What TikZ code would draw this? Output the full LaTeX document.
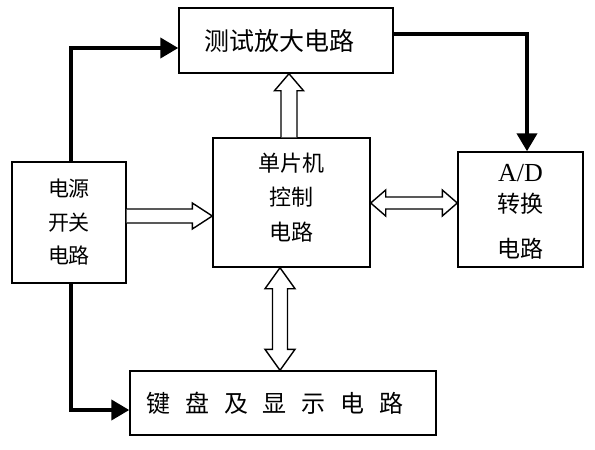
\documentclass[tikz,border=0pt]{standalone}
\usepackage{fontspec}
\setmainfont{Liberation Serif}
\newfontfamily\cjk{Noto Sans CJK SC}
\usetikzlibrary{calc,arrows.meta}
\newcommand{\gp}{\hspace{15pt}}
\begin{document}
\begin{tikzpicture}[x=1pt,y=-1pt,
  box/.style={draw, line width=1.4pt, rectangle, inner sep=0pt, align=center},
  power/.style={line width=4pt, -{Triangle[length=18pt,width=20pt]}},
  hollow/.style={draw, line width=1.4pt, fill=white, line join=miter},
]
\useasboundingbox[fill=white] (0,0) rectangle (595,450);
% boxes
\node[box, minimum width=214pt, minimum height=65pt,
      font=\cjk\fontsize{25}{30}\selectfont] (top) at (286,40.5) {测试放大电路\hspace*{14pt}};
\node[box, minimum width=157pt, minimum height=129pt,
      font=\cjk\fontsize{22}{34.5}\selectfont] (ctl) at (291.5,202.5) {单片机\\控制\\电路\\[-23pt]\mbox{}};
\node[box, minimum width=114pt, minimum height=121pt,
      font=\cjk\fontsize{21}{33.5}\selectfont] (left) at (69,222.5) {电源\\开关\\电路};
\node[box, minimum width=125pt, minimum height=115pt,
      font=\cjk\fontsize{23}{33}\selectfont] (ad) at (520.5,209.5) {\mbox{}\\[-12pt]{\rmfamily\fontsize{26}{30}\selectfont A/D}\\[-2pt]转换\\[12pt]电路};
\node[box, minimum width=306pt, minimum height=64pt,
      font=\cjk\fontsize{24}{30}\selectfont] (bot) at (283,403) {键\gp 盘\gp 及\gp 显\gp 示\gp 电\gp 路\hspace*{16pt}};
% power lines
\draw[power] ([xshift=2pt]left.north) |- ([yshift=-7.5pt]top.west);
\draw[power] ([xshift=2pt]left.south) |- ([yshift=-7pt]bot.west);
\draw[power] ([yshift=6.5pt]top.east) -| ([xshift=6.5pt]ad.north);
% hollow arrow up: ctl -> top
\coordinate (ua1) at ([xshift=-2.5pt]ctl.north);
\coordinate (ua2) at (ua1 |- top.south);
\draw[hollow] ($(ua1)+(-8,0)$) -- ($(ua2)+(-8,17)$) -- ($(ua2)+(-14.5,17)$) -- (ua2)
  -- ($(ua2)+(14.5,17)$) -- ($(ua2)+(8,17)$) -- ($(ua1)+(8,0)$);
% hollow arrow right: left -> ctl
\coordinate (la1) at ([yshift=6.5pt]left.east);
\coordinate (la2) at (la1 -| ctl.west);
\draw[hollow] ($(la1)+(0,-7)$) -- ($(la2)+(-20,-7)$) -- ($(la2)+(-20,-13)$) -- (la2)
  -- ($(la2)+(-20,13)$) -- ($(la2)+(-20,7)$) -- ($(la1)+(0,7)$);
% double hollow arrow: ctl <-> ad
\coordinate (da1) at ([yshift=-0.5pt]ctl.east);
\coordinate (da2) at (da1 -| ad.west);
\draw[hollow] (da1) -- ($(da1)+(15,-13)$) -- ($(da1)+(15,-6)$) -- ($(da2)+(-15,-6)$)
  -- ($(da2)+(-15,-13)$) -- (da2) -- ($(da2)+(-15,13)$) -- ($(da2)+(-15,6)$)
  -- ($(da1)+(15,6)$) -- ($(da1)+(15,13)$) -- cycle;
% double hollow arrow: ctl <-> bot
\coordinate (va1) at ([xshift=-11.5pt]ctl.south);
\coordinate (va2) at (va1 |- bot.north);
\draw[hollow] (va1) -- ($(va1)+(-15,21)$) -- ($(va1)+(-7.5,21)$) -- ($(va2)+(-7.5,-21)$)
  -- ($(va2)+(-15,-21)$) -- (va2) -- ($(va2)+(15,-21)$) -- ($(va2)+(7.5,-21)$)
  -- ($(va1)+(7.5,21)$) -- ($(va1)+(15,21)$) -- cycle;
\end{tikzpicture}
\end{document}
